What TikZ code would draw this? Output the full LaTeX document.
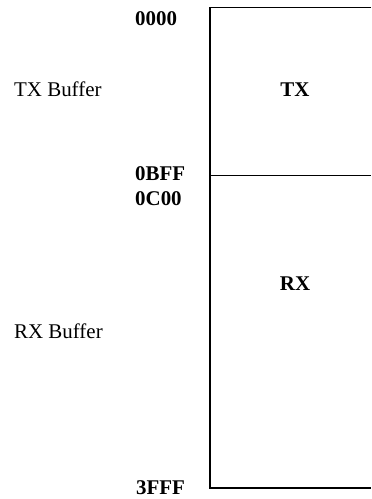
\documentclass[tikz,border=0pt]{standalone}
\usepackage{fontspec}
\setmainfont{Liberation Serif}
\begin{document}
\begin{tikzpicture}[x=1bp,y=-1bp,
  lbl/.style={inner sep=0pt,anchor=base west,font=\fontsize{21}{24}\selectfont},
  addr/.style={lbl,font=\fontsize{21}{24}\selectfont\bfseries},
  region/.style={inner sep=0pt,anchor=base,font=\fontsize{21}{24}\selectfont\bfseries},
  memline/.style={line width=1.9bp}]
\useasboundingbox (0,0) rectangle (371,499);
% frame coordinates
\coordinate (tl) at (210,7.5);
\coordinate (tr) at (371,7.5);
\coordinate (ml) at (210,175.5);
\coordinate (mr) at (371,175.5);
\coordinate (bl) at (210,488);
\coordinate (br) at (371,488);
\draw[memline] (tr) -- (tl) -- (bl) -- (br);
\draw[memline] (ml) -- (mr);
% address labels
\node[addr] (a0) at (135,26) {0000};
\node[addr] (a1) at (135,181) {0BFF};
\node[addr] (a2) at (135,205) {0C00};
\node[addr] (a3) at (136,494) {3FFF};
% buffer labels
\node[lbl] (txb) at (14,97) {TX Buffer};
\node[lbl] (rxb) at (14,338) {RX Buffer};
% region labels
\node[region] (tx) at (295,97) {TX};
\node[region] (rx) at (295,290) {RX};
\end{tikzpicture}
\end{document}
